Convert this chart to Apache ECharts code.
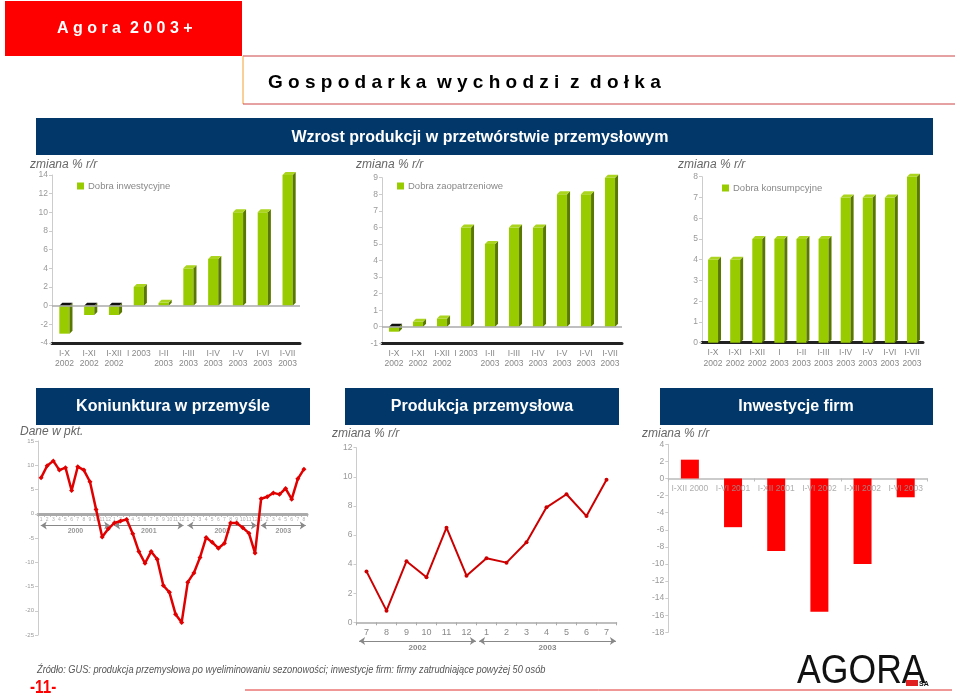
<!DOCTYPE html>
<html><head><meta charset="utf-8">
<script src="https://cdn.jsdelivr.net/npm/echarts@6/dist/echarts.min.js"></script>
<style>html,body{margin:0;padding:0;background:#fff}#c{width:960px;height:696px}</style>
</head><body><div id="c"></div>
<script>
// ---- data ----
const catsInw = ['I-X\n2002','I-XI\n2002','I-XII\n2002','I 2003','I-II\n2003','I-III\n2003','I-IV\n2003','I-V\n2003','I-VI\n2003','I-VII\n2003'];
const catsKons = ['I-X\n2002','I-XI\n2002','I-XII\n2002','I\n2003','I-II\n2003','I-III\n2003','I-IV\n2003','I-V\n2003','I-VI\n2003','I-VII\n2003'];
const inwestycyjne = [-3, -1, -1, 2, 0.3, 4, 5, 10, 10, 14];
const zaopatrzeniowe = [-0.3, 0.3, 0.5, 6, 5, 6, 6, 8, 8, 9];
const konsumpcyjne = [4, 4, 5, 5, 5, 5, 7, 7, 7, 8];

const koniunkturaYears = ['2000', '2001', '2002', '2003'];
const koniunkturaMonthCounts = [12, 12, 12, 8];
const koniunktura = [7.4, 9.9, 10.9, 9.0, 9.5, 4.8, 9.7, 9.0, 6.6, 0.9, -4.8, -3.1,
  -1.9, -1.5, -1.2, -4.1, -7.8, -10.2, -7.8, -9.4, -14.8, -16.2, -20.7, -22.4,
  -14.1, -12.2, -9.0, -4.9, -5.9, -7.1, -6.1, -1.9, -1.9, -2.9, -4.0, -8.1,
  3.1, 3.5, 4.3, 4.0, 5.2, 3.0, 7.2, 9.2];

const produkcjaMonths = ['7','8','9','10','11','12','1','2','3','4','5','6','7'];
const produkcjaYears = ['2002', '2003'];
const produkcjaMonthCounts = [6, 7];
const produkcja = [3.5, 0.8, 4.2, 3.1, 6.5, 3.2, 4.4, 4.1, 5.5, 7.9, 8.8, 7.3, 9.8];

const inwestycjeCats = ['I-XII 2000', 'I-VI 2001', 'I-XII 2001', 'I-VI 2002', 'I-XII 2002', 'I-VI 2003'];
const inwestycje = [2.2, -5.7, -8.5, -15.6, -10, -2.2];

// ---- helpers ----
const koniunkturaMonths = [];
koniunkturaMonthCounts.forEach(n => { for (let m = 1; m <= n; m++) koniunkturaMonths.push(String(m)); });

function yearSpans(years, counts, y, padStart, padEnd) {
  const out = []; let s = 0;
  years.forEach((yr, k) => {
    const e = s + counts[k] - 1;
    out.push({ name: yr, coords: [[s - padStart, y], [e + padEnd, y]] });
    s = e + 1;
  });
  return out;
}

function bar3d(depth, wRatio) {
  return function (params, api) {
    const i = api.value(0), v = api.value(1);
    const p0 = api.coord([i, 0]), p1 = api.coord([i, v]);
    const w = api.size([1, 0])[0] * wRatio;
    const xl = p0[0] - w / 2, xr = p0[0] + w / 2;
    const yt = Math.min(p0[1], p1[1]), yb = Math.max(p0[1], p1[1]);
    const d = depth;
    return { type: 'group', children: [
      { type: 'rect', shape: { x: xl, y: yt, width: w, height: yb - yt }, style: { fill: '#99cc00' } },
      { type: 'polygon', shape: { points: [[xr, yt], [xr + d, yt - d], [xr + d, yb - d], [xr, yb]] }, style: { fill: '#5a7800' } },
      { type: 'polygon', shape: { points: [[xl, yt], [xl + d, yt - d], [xr + d, yt - d], [xr, yt]] }, style: { fill: v < 0 ? '#111' : '#aad41e' } }
    ]};
  };
}

const FF = '"Liberation Sans", Arial, sans-serif';

function topX(idx, cats) {
  return { type: 'category', gridIndex: idx, data: cats, position: 'bottom',
    axisLine: { onZero: false, lineStyle: { color: '#222', width: 3 } },
    axisTick: { show: false },
    axisLabel: { interval: 0, color: '#888', fontSize: 8.5, lineHeight: 10.5, margin: 5, fontFamily: FF } };
}
function valY(idx, min, max, interval, fs) {
  return { type: 'value', gridIndex: idx, min, max, interval,
    axisLine: { show: true, onZero: false, lineStyle: { color: '#ccc' } },
    axisTick: { show: true, length: 3, lineStyle: { color: '#ccc' } },
    splitLine: { show: false },
    axisLabel: { color: '#999', fontSize: fs || 8.5, margin: 4, fontFamily: FF } };
}
function legendAt(name, left, top) {
  return { data: [name], left, top, padding: 0, icon: 'rect', itemWidth: 7, itemHeight: 7, itemGap: 0,
    selectedMode: false, textStyle: { color: '#888', fontSize: 9.5, fontFamily: FF, padding: [0, 0, 0, -1] } };
}
function zeroLine() {
  return { silent: true, symbol: 'none', data: [{ yAxis: 0 }], label: { show: false },
    lineStyle: { color: '#aaa', width: 1.5, type: 'solid' } };
}
function zeroLabels(cats, xIdx, yIdx, style, z) {
  return { type: 'scatter', xAxisIndex: xIdx, yAxisIndex: yIdx, silent: true, symbolSize: 0, z,
    data: cats.map((c, i) => [i, 0]),
    label: Object.assign({ show: true, position: 'bottom', formatter: p => cats[p.dataIndex], fontFamily: FF }, style) };
}
function txt(x, y, text, font, fill, align, scaleX) {
  return { type: 'text', x, y, scaleX: scaleX || 1, style: { text, font, fill, align: align || 'left', verticalAlign: 'middle' } };
}

const chart = echarts.init(document.getElementById('c'), null, { width: 960, height: 696 });

const option = {
  backgroundColor: '#fff',
  animation: false,
  grid: [
    { left: 52, top: 175, width: 248, height: 168 },
    { left: 382, top: 177.7, width: 240, height: 165.6 },
    { left: 702, top: 176.7, width: 221, height: 166 },
    { left: 38, top: 441, width: 269, height: 194 },
    { left: 356.5, top: 447.7, width: 260, height: 174.6 },
    { left: 668.3, top: 444.3, width: 259, height: 188 }
  ],
  legend: [
    legendAt('Dobra inwestycyjne', 77, 181),
    legendAt('Dobra zaopatrzeniowe', 397, 181),
    legendAt('Dobra konsumpcyjne', 722, 183)
  ],
  xAxis: [
    topX(0, catsInw),
    topX(1, catsInw),
    topX(2, catsKons),
    { type: 'category', gridIndex: 3, data: koniunkturaMonths,
      axisLine: { onZero: true, onZeroAxisIndex: 3, lineStyle: { color: '#aaa', width: 3 } },
      axisTick: { show: true, interval: 0, length: 3, lineStyle: { color: '#aaa' } },
      axisLabel: { show: false } },
    { type: 'value', gridIndex: 3, min: -0.5, max: 43.5, show: false, axisLine: { onZero: false } },
    { type: 'category', gridIndex: 4, data: produkcjaMonths,
      axisLine: { lineStyle: { color: '#aaa', width: 1.5 } },
      axisTick: { show: true, length: 3, lineStyle: { color: '#aaa' } },
      axisLabel: { interval: 0, fontSize: 9, color: '#888', margin: 6, fontFamily: FF } },
    { type: 'value', gridIndex: 4, min: -0.5, max: 12.5, show: false, axisLine: { onZero: false } },
    { type: 'category', gridIndex: 5, data: inwestycjeCats,
      axisLine: { onZero: true, lineStyle: { color: '#bbb', width: 1.5 } },
      axisTick: { show: true, length: 3, lineStyle: { color: '#bbb' } },
      axisLabel: { show: false } }
  ],
  yAxis: [
    valY(0, -4, 14, 2),
    valY(1, -1, 9, 1),
    valY(2, 0, 8, 1),
    valY(3, -25, 15, 5, 6),
    valY(4, 0, 12, 2),
    valY(5, -18, 4, 2)
  ],
  series: [
    { name: 'Dobra inwestycyjne', type: 'custom', xAxisIndex: 0, yAxisIndex: 0, itemStyle: { color: '#99cc00' },
      renderItem: bar3d(3, 0.41), data: inwestycyjne.map((v, i) => [i, v]), markLine: zeroLine() },
    { name: 'Dobra zaopatrzeniowe', type: 'custom', xAxisIndex: 1, yAxisIndex: 1, itemStyle: { color: '#99cc00' },
      renderItem: bar3d(3, 0.42), data: zaopatrzeniowe.map((v, i) => [i, v]), markLine: zeroLine() },
    { name: 'Dobra konsumpcyjne', type: 'custom', xAxisIndex: 2, yAxisIndex: 2, itemStyle: { color: '#99cc00' },
      renderItem: bar3d(3, 0.45), data: konsumpcyjne.map((v, i) => [i, v]) },
    zeroLabels(koniunkturaMonths, 3, 3, { fontSize: 5, color: '#999', distance: 3 }, 1),
    { type: 'line', xAxisIndex: 3, yAxisIndex: 3, data: koniunktura, symbol: 'diamond', symbolSize: 5, showAllSymbol: true,
      lineStyle: { color: '#e00000', width: 2.5 }, itemStyle: { color: '#e00000' }, z: 5 },
    { type: 'lines', coordinateSystem: 'cartesian2d', xAxisIndex: 4, yAxisIndex: 3, clip: false,
      symbol: ['arrow', 'arrow'], symbolSize: 6,
      lineStyle: { color: '#888', width: 1, opacity: 1, curveness: 0 },
      label: { show: true, position: 'insideMiddleBottom', formatter: p => p.name, color: '#999', fontSize: 7, fontWeight: 'bold', distance: 2, fontFamily: FF },
      data: yearSpans(koniunkturaYears, koniunkturaMonthCounts, -2.4, 0.05, 0.3) },
    { type: 'line', xAxisIndex: 5, yAxisIndex: 4, data: produkcja, symbol: 'circle', symbolSize: 4, showAllSymbol: true,
      lineStyle: { color: '#cc0000', width: 2 }, itemStyle: { color: '#cc0000' } },
    { type: 'lines', coordinateSystem: 'cartesian2d', xAxisIndex: 6, yAxisIndex: 4, clip: false,
      symbol: ['arrow', 'arrow'], symbolSize: 6,
      lineStyle: { color: '#888', width: 1, opacity: 1, curveness: 0 },
      label: { show: true, position: 'insideMiddleBottom', formatter: p => p.name, color: '#888', fontSize: 8, fontWeight: 'bold', distance: 3, fontFamily: FF },
      data: yearSpans(produkcjaYears, produkcjaMonthCounts, -1.28, 0.37, 0.47) },
    { type: 'bar', xAxisIndex: 7, yAxisIndex: 5, data: inwestycje, barWidth: 18, itemStyle: { color: '#ff0000' } },
    zeroLabels(inwestycjeCats, 7, 5, { fontSize: 8.5, color: '#999', distance: 6 }, 6)
  ],
  graphic: [
    { type: 'rect', shape: { x: 5, y: 1, width: 237, height: 55 }, style: { fill: '#ff0000' } },
    txt(57, 29, 'A g o r a  2 0 0 3 +', 'bold 16px ' + FF, '#fff'),
    { type: 'line', shape: { x1: 243, y1: 56, x2: 955, y2: 56 }, style: { stroke: '#cc4444', lineWidth: 1 } },
    { type: 'line', shape: { x1: 243, y1: 56, x2: 243, y2: 104 }, style: { stroke: '#f0a030', lineWidth: 1 } },
    { type: 'line', shape: { x1: 243, y1: 104, x2: 955, y2: 104 }, style: { stroke: '#cc4444', lineWidth: 1 } },
    txt(268, 83, 'G o s p o d a r k a  w y c h o d z i  z  d o ł k a', 'bold 19px ' + FF, '#000'),
    { type: 'rect', shape: { x: 36, y: 118, width: 897, height: 37 }, style: { fill: '#013769' } },
    txt(480, 138, 'Wzrost produkcji w przetwórstwie przemysłowym', 'bold 16px ' + FF, '#fff', 'center'),
    { type: 'rect', shape: { x: 36, y: 388, width: 274, height: 37 }, style: { fill: '#013769' } },
    { type: 'rect', shape: { x: 345, y: 388, width: 274, height: 37 }, style: { fill: '#013769' } },
    { type: 'rect', shape: { x: 660, y: 388, width: 273, height: 37 }, style: { fill: '#013769' } },
    txt(173, 407, 'Koniunktura w przemyśle', 'bold 16px ' + FF, '#fff', 'center'),
    txt(482, 407, 'Produkcja przemysłowa', 'bold 16px ' + FF, '#fff', 'center'),
    txt(796, 407, 'Inwestycje firm', 'bold 16px ' + FF, '#fff', 'center'),
    txt(30, 165, 'zmiana % r/r', 'italic 12px ' + FF, '#666'),
    txt(356, 165, 'zmiana % r/r', 'italic 12px ' + FF, '#666'),
    txt(678, 165, 'zmiana % r/r', 'italic 12px ' + FF, '#666'),
    txt(20, 432, 'Dane w pkt.', 'italic 12px ' + FF, '#666'),
    txt(332, 434, 'zmiana % r/r', 'italic 12px ' + FF, '#666'),
    txt(642, 434, 'zmiana % r/r', 'italic 12px ' + FF, '#666'),
    txt(37, 670, 'Źródło: GUS: produkcja przemysłowa po wyeliminowaniu sezonowości; inwestycje firm: firmy zatrudniające powyżej 50 osób', 'italic 11px ' + FF, '#555', 'left', 0.84),
    txt(30, 688, '-11-', 'bold 19px ' + FF, '#ff0000', 'left', 0.8),
    { type: 'line', shape: { x1: 245, y1: 690, x2: 952, y2: 690 }, style: { stroke: '#e03030', lineWidth: 1 } },
    txt(797, 672, 'AGORA', '40px ' + FF, '#111', 'left', 0.89),
    { type: 'rect', shape: { x: 906, y: 680, width: 12, height: 6 }, style: { fill: '#e02020' } },
    txt(919, 684, 'SA', 'bold 7px ' + FF, '#111')
  ]
};
chart.setOption(option);
</script>
</body></html>
